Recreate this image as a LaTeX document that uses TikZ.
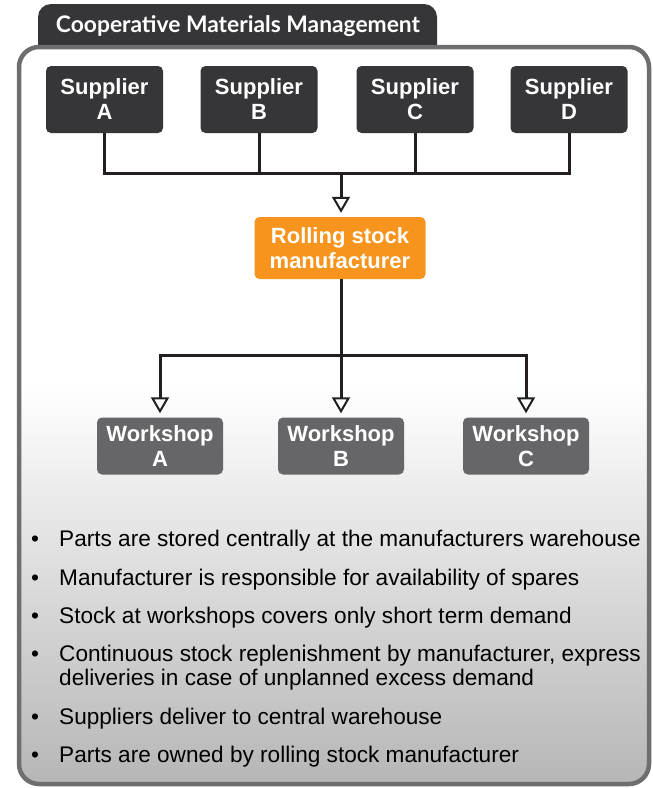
\documentclass[tikz,border=0pt]{standalone}
\usepackage{fontspec}
\setmainfont{Liberation Sans}
\newfontfamily\titlefont{Lato}
\usetikzlibrary{arrows.meta}
\definecolor{supc}{HTML}{363538}
\definecolor{tabc}{HTML}{363538}
\definecolor{wsc}{HTML}{666668}
\definecolor{orangec}{HTML}{F7941D}
\definecolor{framec}{HTML}{6D6E70}
\definecolor{linec}{HTML}{231F20}
\definecolor{bgbot}{HTML}{B6B6B6}
\pgfdeclareverticalshading{bgshade}{100bp}{color(0bp)=(bgbot); color(25bp)=(bgbot); color(52bp)=(white); color(75bp)=(white); color(100bp)=(white)}
\begin{document}
\begin{tikzpicture}[x=1pt,y=-1pt,
  box/.style={rounded corners=5pt, text=white, font=\bfseries\fontsize{22}{25}\selectfont, align=center, inner sep=0pt},
  sup/.style={box, fill=supc, minimum width=117pt, minimum height=67pt},
  ws/.style={box, fill=wsc, minimum width=126pt, minimum height=57pt},
  man/.style={box, fill=orangec, minimum width=171pt, minimum height=62pt},
  conn/.style={line width=3pt, draw=linec},
  arr/.style={conn, shorten >=4pt, -{Triangle[width=18pt,length=16pt,fill=white,line width=2pt]}},
  bul/.style={font=\fontsize{22.6}{24}\selectfont, anchor=base west, inner sep=0pt, align=left, text=black},
  titlestyle/.style={font=\titlefont\bfseries\fontsize{22.8}{24}\selectfont, text=white, inner sep=0pt}
]
\useasboundingbox (0,0) rectangle (653,788);
% tab
\fill[tabc, rounded corners=13pt] (38,4) rectangle (437,75);
\node[titlestyle] (title) at (238,26) {Cooperative Materials Management};
% frame
\path[draw=framec, line width=4.5pt, shading=bgshade, rounded corners=20pt] (19,47) rectangle (649,784);
% suppliers
\node[sup] (sA) at (104.5,99.5) {Supplier\\A};
\node[sup] (sB) at (259,99.5) {Supplier\\B};
\node[sup] (sC) at (415,99.5) {Supplier\\C};
\node[sup] (sD) at (569,99.5) {Supplier\\D};
% manufacturer
\node[man] (man) at (340,248) {Rolling stock\\manufacturer};
% workshops
\node[ws] (wA) at (160,446) {Workshop\\A};
\node[ws] (wB) at (341,446) {Workshop\\B};
\node[ws] (wC) at (526,446) {Workshop\\C};
% connectors
\coordinate (j1) at (341,173);
\coordinate (j2) at (341,355);
\draw[conn] (sA.south) -- (sA.south |- j1) -- (sD.south |- j1) -- (sD.south);
\draw[conn] (sB.south) -- (sB.south |- j1);
\draw[conn] (sC.south) -- (sC.south |- j1);
\draw[arr] (j1) -- (j1 |- man.north);
\draw[arr] (j2 |- man.south) -- (j2 |- wB.north);
\draw[arr] (j2) -| (wA.north);
\draw[arr] (j2) -| (wC.north);
% bullets
\node[bul] (b1d) at (31,546) {•};
\node[bul] (b1) at (59,546) {Parts are stored centrally at the manufacturers warehouse};
\node[bul] (b2d) at (31,585) {•};
\node[bul] (b2) at (59,585) {Manufacturer is responsible for availability of spares};
\node[bul] (b3d) at (31,623) {•};
\node[bul] (b3) at (59,623) {Stock at workshops covers only short term demand};
\node[bul] (b4d) at (31,661) {•};
\node[bul] (b4) at (59,685) {Continuous stock replenishment by manufacturer, express\\deliveries in case of unplanned excess demand};
\node[bul] (b5d) at (31,724) {•};
\node[bul] (b5) at (59,724) {Suppliers deliver to central warehouse};
\node[bul] (b6d) at (31,762) {•};
\node[bul] (b6) at (59,762) {Parts are owned by rolling stock manufacturer};
\end{tikzpicture}
\end{document}
